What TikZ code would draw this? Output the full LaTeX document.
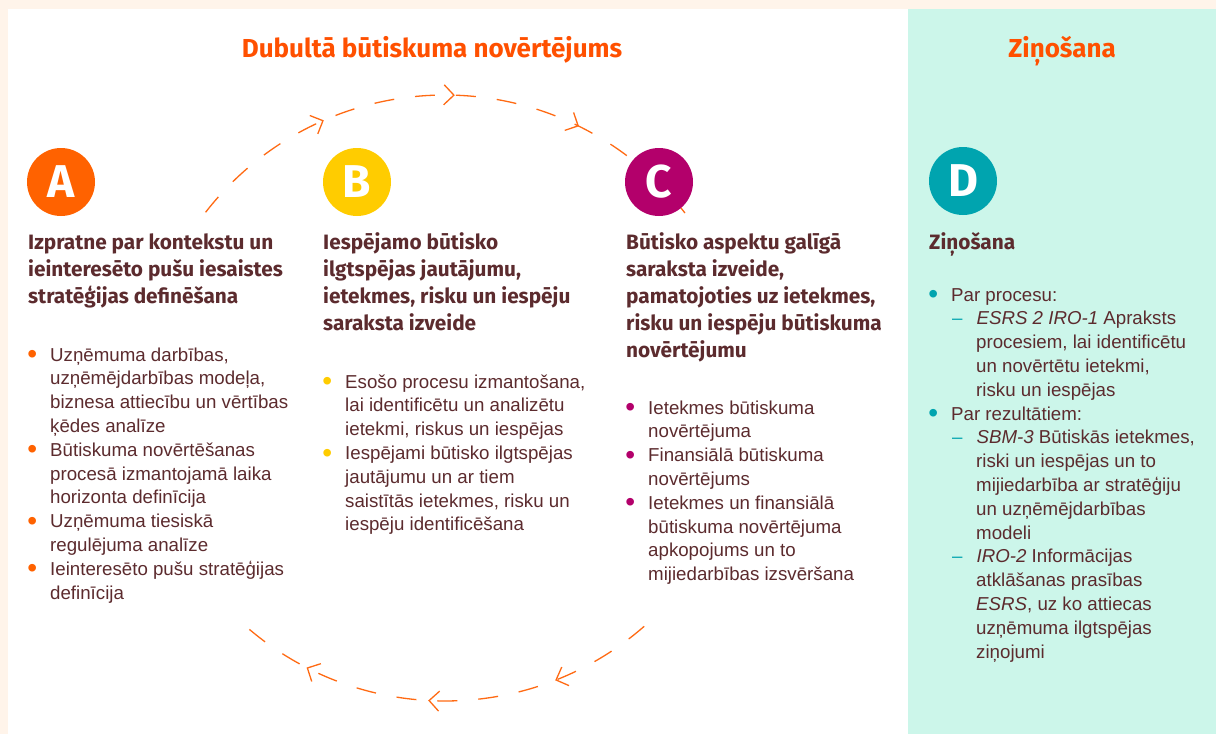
\documentclass[tikz,border=0pt]{standalone}
\usepackage{fontspec}
\setmainfont{Liberation Sans}
\newfontfamily\headfont{Fira Sans}
\usepackage{tikz}
\usetikzlibrary{positioning,arrows.meta,decorations.markings}
\usepackage{xcolor}
\definecolor{cream}{HTML}{FFF4EA}
\definecolor{mint}{HTML}{CCF6EA}
\definecolor{ink}{HTML}{5C2B2E}
\definecolor{titleorange}{HTML}{FF5000}
\definecolor{lineorange}{HTML}{FF6A13}
\definecolor{dotA}{HTML}{FF6200}
\definecolor{dotB}{HTML}{FFCC00}
\definecolor{dotC}{HTML}{B3006B}
\definecolor{dotD}{HTML}{00A4AF}
\newcommand{\bigdot}[1]{\makebox[8pt][c]{\textcolor{#1}{\raisebox{-2.6pt}{\scalebox{1.5}{\textbullet}}}}}
\newenvironment{dotlist}[1]{%
  \begin{list}{\bigdot{#1}}{%
    \setlength{\leftmargin}{22pt}\setlength{\labelwidth}{8pt}%
    \setlength{\labelsep}{14pt}\setlength{\itemsep}{0pt}%
    \setlength{\parsep}{0pt}\setlength{\topsep}{0pt}%
    \setlength{\partopsep}{0pt}}}{\end{list}}
\newenvironment{dashlist}[1]{%
  \begin{list}{\textcolor{#1}{\textendash}}{%
    \setlength{\leftmargin}{25pt}\setlength{\labelwidth}{10pt}%
    \setlength{\labelsep}{14pt}\setlength{\itemsep}{0pt}%
    \setlength{\parsep}{0pt}\setlength{\topsep}{0pt}%
    \setlength{\partopsep}{0pt}}}{\end{list}}
\tikzstyle{letterdot} = [circle, minimum size=68pt, inner sep=0pt, text=white, font=\headfont\bfseries\fontsize{46}{46}\selectfont]
\tikzstyle{heading} = [anchor=base west, inner sep=0pt, text=ink, font=\headfont\bfseries\fontsize{20.8}{27}\selectfont]
\tikzstyle{itembox} = [anchor=base west, inner sep=0pt, text=ink, font=\fontsize{18.7}{23.8}\selectfont]
\tikzstyle{bigtitle} = [anchor=base, inner sep=0pt, text=titleorange, font=\headfont\bfseries\fontsize{26}{26}\selectfont]
\tikzstyle{cyclearc} = [draw=lineorange, line width=1.3pt, dash pattern=on 20pt off 21pt, postaction={decorate}]
\tikzset{cyclehead/.tip={Straight Barb[length=10pt,width=20pt,line width=1.3pt]}}

\begin{document}
\begin{tikzpicture}[x=1pt, y=-1pt]
\fill[cream] (0,0) rectangle (1216,734);
\fill[white] (8,9) rectangle (908,734);
\fill[mint] (908,9) rectangle (1216,734);
\useasboundingbox (0,0) rectangle (1216,734);

% cycle arrows
\coordinate (hub) at (445,398);
\draw[cyclearc, decoration={markings,
    mark=at position 0.27 with {\pgfsetdash{}{0pt}\arrow{cyclehead}},
    mark=at position 0.51 with {\pgfsetdash{}{0pt}\arrow{cyclehead}},
    mark=at position 0.74 with {\pgfsetdash{}{0pt}\arrow{cyclehead}}}]
  (hub) ++(-142.2:303) arc[start angle=-142.2, end angle=-36.2, radius=303];
\draw[cyclearc, decoration={markings,
    mark=at position 0.234 with {\pgfsetdash{}{0pt}\arrow{cyclehead}},
    mark=at position 0.524 with {\pgfsetdash{}{0pt}\arrow{cyclehead}},
    mark=at position 0.808 with {\pgfsetdash{}{0pt}\arrow{cyclehead}}}]
  (hub) ++(48.9:303) arc[start angle=48.9, end angle=133.4, radius=303];

\node[bigtitle] (title) at (432,57) {Dubultā būtiskuma novērtējums};
\node[bigtitle] (reporttitle) at (1062,57) {Ziņošana};

\node[letterdot, fill=dotA] (A) at (61,182) {A};
\node[letterdot, fill=dotB] (B) at (357,182) {B};
\node[letterdot, fill=dotC] (C) at (659,182) {C};
\node[letterdot, fill=dotD] (D) at (963,181) {D};

\node[heading] (headA) at (28,249) {%
  \begin{minipage}[t]{270pt}\raggedright
  Izpratne par kontekstu un\\ ieinteresēto pušu iesaistes\\ stratēģijas definēšana
  \end{minipage}};
\node[heading] (headB) at (323,249) {%
  \begin{minipage}[t]{270pt}\raggedright
  Iespējamo būtisko\\ ilgtspējas jautājumu,\\ ietekmes, risku un iespēju\\ saraksta izveide
  \end{minipage}};
\node[heading] (headC) at (626,249) {%
  \begin{minipage}[t]{275pt}\raggedright
  Būtisko aspektu galīgā\\ saraksta izveide,\\ pamatojoties uz ietekmes,\\ risku un iespēju būtiskuma\\ novērtējumu
  \end{minipage}};
\node[heading] (headD) at (929,249) {%
  \begin{minipage}[t]{270pt}\raggedright
  Ziņošana
  \end{minipage}};

\node[itembox] (listA) at (28,361) {%
  \begin{minipage}[t]{285pt}\raggedright
  \begin{dotlist}{dotA}
  \item Uzņēmuma darbības,\\ uzņēmējdarbības modeļa,\\ biznesa attiecību un vērtības\\ ķēdes analīze
  \item Būtiskuma novērtēšanas\\ procesā izmantojamā laika\\ horizonta definīcija
  \item Uzņēmuma tiesiskā\\ regulējuma analīze
  \item Ieinteresēto pušu stratēģijas\\ definīcija
  \end{dotlist}
  \end{minipage}};
\node[itembox] (listB) at (323,388) {%
  \begin{minipage}[t]{285pt}\raggedright
  \begin{dotlist}{dotB}
  \item Esošo procesu izmantošana,\\ lai identificētu un analizētu\\ ietekmi, riskus un iespējas
  \item Iespējami būtisko ilgtspējas\\ jautājumu un ar tiem\\ saistītās ietekmes, risku un\\ iespēju identificēšana
  \end{dotlist}
  \end{minipage}};
\node[itembox] (listC) at (626,414) {%
  \begin{minipage}[t]{275pt}\raggedright
  \begin{dotlist}{dotC}
  \item Ietekmes būtiskuma\\ novērtējuma
  \item Finansiālā būtiskuma\\ novērtējums
  \item Ietekmes un finansiālā\\ būtiskuma novērtējuma\\ apkopojums un to\\ mijiedarbības izsvēršana
  \end{dotlist}
  \end{minipage}};
\node[itembox] (listD) at (929,301) {%
  \begin{minipage}[t]{285pt}\raggedright
  \begin{dotlist}{dotD}
  \item Par procesu:
    \begin{dashlist}{dotD}
    \item \textit{ESRS 2 IRO-1} Apraksts\\ procesiem, lai identificētu\\ un novērtētu ietekmi,\\ risku un iespējas
    \end{dashlist}
  \item Par rezultātiem:
    \begin{dashlist}{dotD}
    \item \textit{SBM-3} Būtiskās ietekmes,\\ riski un iespējas un to\\ mijiedarbība ar stratēģiju\\ un uzņēmējdarbības\\ modeli
    \item \textit{IRO-2} Informācijas\\ atklāšanas prasības\\ \textit{ESRS}, uz ko attiecas\\ uzņēmuma ilgtspējas\\ ziņojumi
    \end{dashlist}
  \end{dotlist}
  \end{minipage}};
\end{tikzpicture}
\end{document}
